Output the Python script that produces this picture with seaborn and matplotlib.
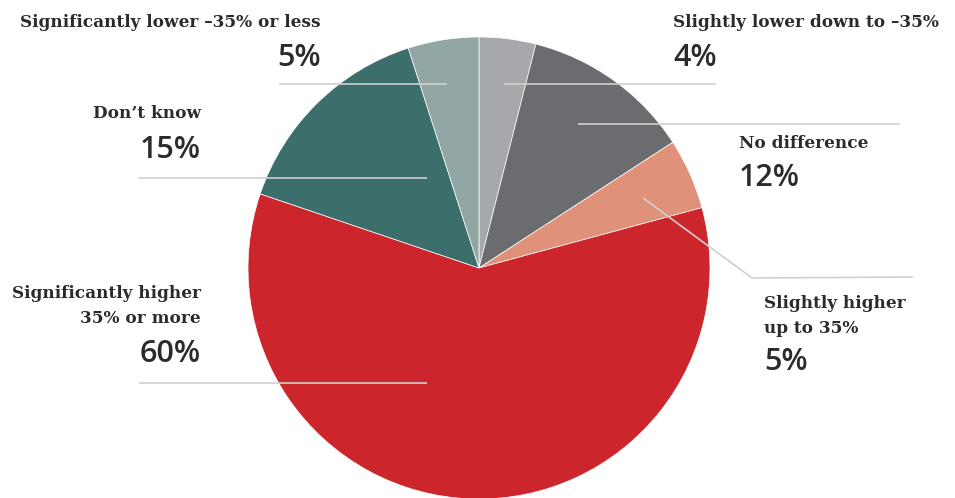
import matplotlib
matplotlib.use("Agg")
import matplotlib.pyplot as plt
import seaborn as sns

# data
labels = ["Slightly lower down to \u201335%", "No difference", "Slightly higher\nup to 35%",
          "Significantly higher\n35% or more", "Don\u2019t know", "Significantly lower \u201335% or less"]
values = [4, 12, 5, 60, 15, 5]
colors = ["#a6a8ab", "#6b6c70", "#e0917a", "#cc252b", "#3c6e6b", "#92a6a3"]

W, H = 955, 498
sns.set_theme(style="white")
plt.rcParams['font.family'] = ['DejaVu Serif']

fig = plt.figure(figsize=(W / 100, H / 100), dpi=100)
ax = fig.add_axes([0, 0, 1, 1])

# pie in pixel coordinates (y up)
ax.pie(values, colors=colors, startangle=90, counterclock=False,
       center=(479, H - 268), radius=231,
       wedgeprops=dict(edgecolor="white", linewidth=0.5))
ax.set_xlim(0, W)
ax.set_ylim(0, H)
ax.set_aspect("equal")
ax.axis("off")

txt = "#2b2b2b"
line_c = "#d0d0d0"
lab_kw = dict(fontsize=12.2, fontweight="bold", color=txt, va="center",
              family="DejaVu Serif", linespacing=1.55)
pct_kw = dict(fontsize=22, fontweight="semibold", color=txt, va="center",
              family="Open Sans")

# label anchors: (x, y of label, y of percent, align)
anchors = [
    (673, 22, 58, "left"),
    (739, 143, 178, "left"),
    (764, 316, 362, "left"),
    (201, 306, 354, "right"),
    (201, 113, 150, "right"),
    (321, 22, 58, "right"),
]
for lab, v, (x, yl, yp, ha) in zip(labels, values, anchors):
    ax.text(x, H - yl, lab, ha=ha, multialignment=ha, **lab_kw)
    ax.text(x, H - yp, f"{v}%", ha=ha, **pct_kw)

# leader lines
leaders = [
    ([504, 716], [84, 84]),
    ([578, 900], [124, 124]),
    ([643, 752, 913], [198, 278, 277]),
    ([139, 427], [383, 383]),
    ([139, 427], [178, 178]),
    ([279, 447], [84, 84]),
]
for xs, ys in leaders:
    ax.plot(xs, [H - y for y in ys], color=line_c, linewidth=1.2, solid_capstyle="butt")

fig.savefig("out.png", dpi=100)
